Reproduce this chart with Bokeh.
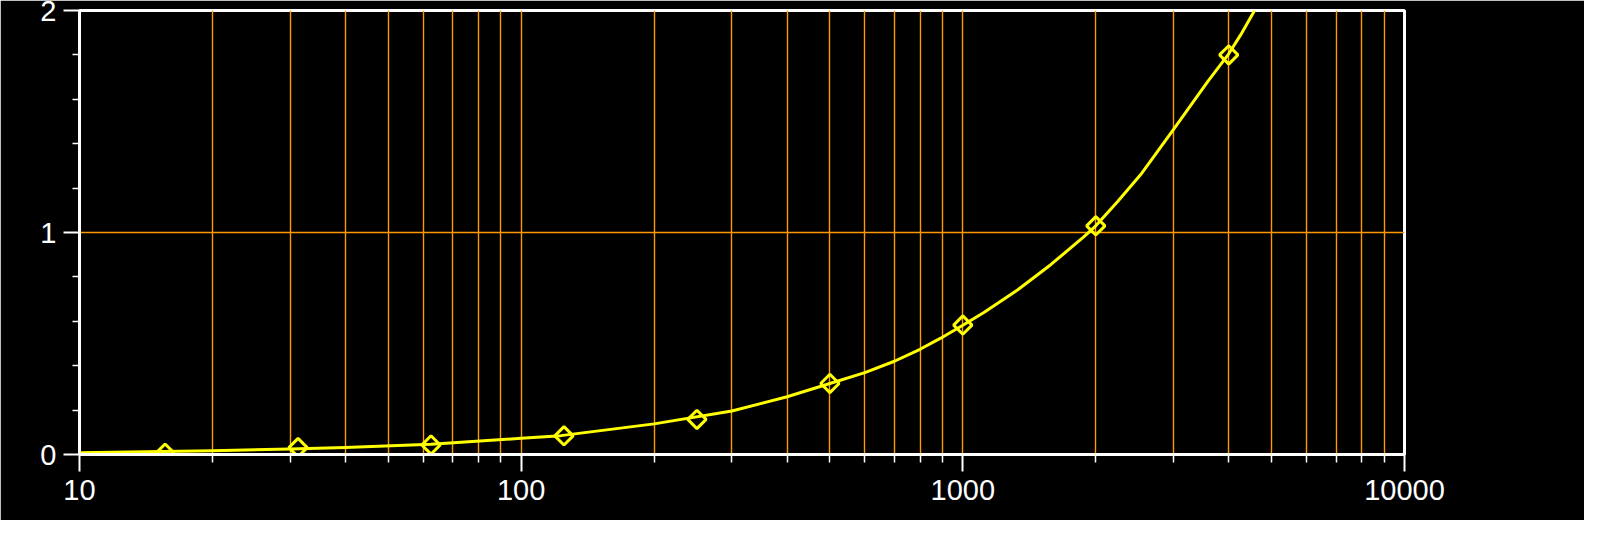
import math
from bokeh.plotting import figure
from bokeh.models import FixedTicker, NumeralTickFormatter, Range1d
from bokeh.embed import file_html
from bokeh.resources import INLINE

# Measured points (concentration vs response)
point_x = [15.625, 31.25, 62.5, 125, 250, 500, 1000, 2000, 4000]
point_y = [0.006, 0.031, 0.043, 0.084, 0.158, 0.320, 0.583, 1.030, 1.800]

# Fitted curve
curve_x = [10, 20, 30, 40, 62.5, 100, 123, 200, 300, 400, 500, 600, 700, 800,
           891, 1000, 1116, 1332, 1581, 1878, 2000, 2242, 2528, 3000, 3584,
           4000, 4256, 4577]
curve_y = [0.008, 0.017, 0.025, 0.032, 0.046, 0.073, 0.085, 0.138, 0.196, 0.260,
           0.320, 0.369, 0.420, 0.474, 0.524, 0.582, 0.640, 0.742, 0.855, 0.980,
           1.030, 1.140, 1.261, 1.465, 1.680, 1.805, 1.890, 2.0]

x_major = [10, 100, 1000, 10000]
x_minor = [m * d for d in (10, 100, 1000) for m in range(2, 10)]
y_major = [0, 1, 2]
y_minor = [0.2, 0.4, 0.6, 0.8, 1.2, 1.4, 1.6, 1.8]

WHITE = "#FFFFFF"
ORANGE = "#FF9900"
YELLOW = "#FFFF00"

p = figure(width=1584, height=520, x_axis_type="log",
           x_range=Range1d(10, 10000), y_range=Range1d(0, 2),
           output_backend="svg", toolbar_location=None,
           min_border_left=79, min_border_right=180,
           min_border_top=10, min_border_bottom=66)
p.background_fill_color = "black"
p.border_fill_color = "black"
p.outline_line_color = WHITE
p.outline_line_width = 3

for ax, maj, mnr in ((p.xaxis[0], x_major, x_minor), (p.yaxis[0], y_major, y_minor)):
    ax.ticker = FixedTicker(ticks=maj, minor_ticks=mnr)
    ax.axis_line_color = WHITE
    ax.axis_line_width = 3
    ax.major_tick_line_color = WHITE
    ax.major_tick_line_width = 2
    ax.minor_tick_line_color = WHITE
    ax.minor_tick_line_width = 1.5
    ax.major_tick_in = 0
    ax.minor_tick_in = 0
    ax.major_label_text_color = WHITE
    ax.major_label_text_font = "Liberation Sans"
    ax.major_label_text_font_size = "29px"

p.xaxis[0].formatter = NumeralTickFormatter(format="0")
p.xaxis[0].major_tick_out = 17
p.xaxis[0].minor_tick_out = 8
p.xaxis[0].major_label_standoff = 8
p.yaxis[0].major_tick_out = 16
p.yaxis[0].minor_tick_out = 7
p.yaxis[0].major_label_standoff = 7

p.xgrid.ticker = FixedTicker(ticks=x_major, minor_ticks=x_minor)
p.xgrid.grid_line_color = ORANGE
p.xgrid.grid_line_width = 1.4
p.xgrid.minor_grid_line_color = ORANGE
p.xgrid.minor_grid_line_width = 1.4
p.ygrid.ticker = FixedTicker(ticks=y_major)
p.ygrid.grid_line_color = ORANGE
p.ygrid.grid_line_width = 1.6

p.line(curve_x, curve_y, line_color=YELLOW, line_width=3, line_join="round")
p.scatter(point_x, point_y, marker="square", angle=math.pi / 4, size=13,
          line_color=YELLOW, line_width=3, fill_alpha=0)

open("out.html", "w").write(file_html(p, INLINE))
